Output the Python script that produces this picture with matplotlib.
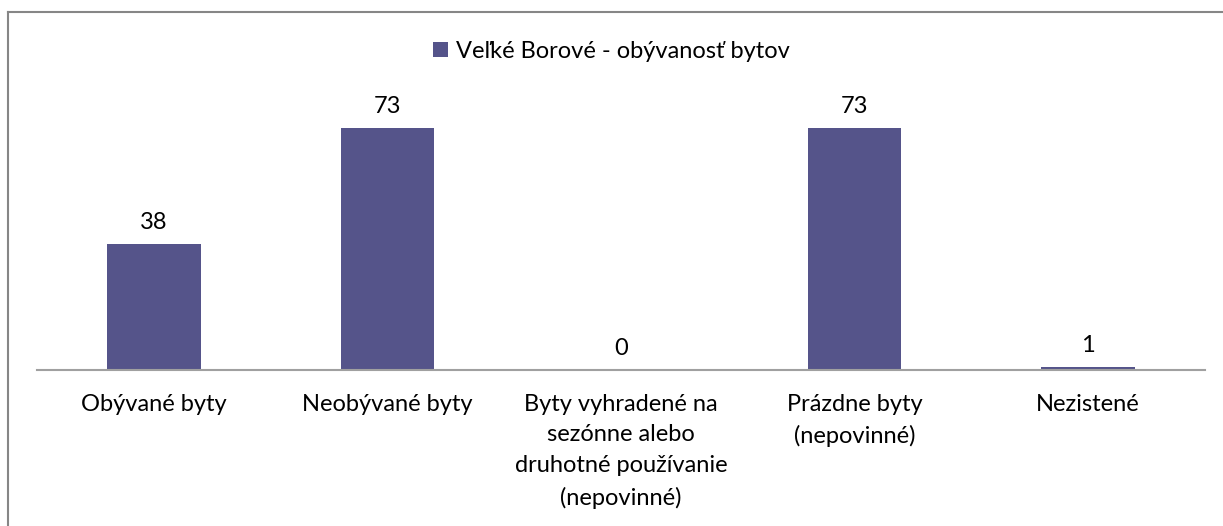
import matplotlib
matplotlib.use('Agg')
from matplotlib import pyplot as plt
from matplotlib.lines import Line2D

categories = ['Obývané byty', 'Neobývané byty',
              'Byty vyhradené na\nsezónne alebo\ndruhotné používanie\n(nepovinné)',
              'Prázdne byty\n(nepovinné)', 'Nezistené']
values = [38, 73, 0, 73, 1]
series_name = 'Veľké Borové - obývanosť bytov'

bar_color = '#55548a'
plt.rcParams['font.family'] = ['Lato', 'DejaVu Sans']
fs = 17

fig = plt.figure(figsize=(12.23, 5.26), dpi=100)
ax = fig.add_axes([37 / 1223, 156 / 526, 1168 / 1223, 265 / 526])

xs = list(range(len(values)))
bars = ax.bar(xs, values, width=0.4, color=bar_color, label=series_name)
ax.bar_label(bars, padding=8, fontsize=fs)

ax.set_xlim(-0.5, len(values) - 0.5)
ax.set_ylim(0, 80)
ax.set_yticks([])
ax.set_xticks(xs)
ax.set_xticklabels(categories, fontsize=fs, linespacing=1.58)
ax.tick_params(axis='x', length=0, pad=17)
for s in ['top', 'right', 'left']:
    ax.spines[s].set_visible(False)
ax.spines['bottom'].set_color('#a0a0a0')
ax.spines['bottom'].set_linewidth(1.5)

leg = ax.legend(loc='center', bbox_to_anchor=(0.5, 1 - 51 / 526),
                bbox_transform=fig.transFigure, frameon=False, fontsize=fs,
                handlelength=0.6, handleheight=0.6, handletextpad=0.35)

# outer border (only left and top visible in crop)
bx = 8 / 1223
by = 1 - 12 / 526
fig.add_artist(Line2D([bx, bx], [0, by], transform=fig.transFigure,
                      color='#868686', lw=1.5))
fig.add_artist(Line2D([bx, 1], [by, by], transform=fig.transFigure,
                      color='#868686', lw=1.5))

fig.savefig('out.png', dpi=100)
